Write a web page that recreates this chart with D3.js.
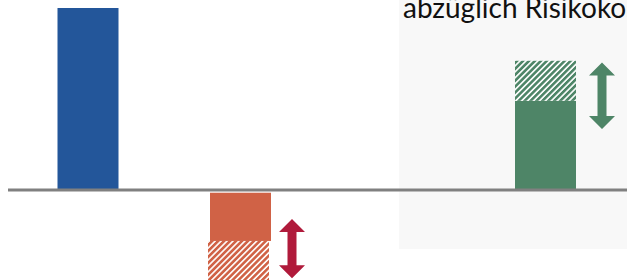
<!DOCTYPE html>
<html>
<head>
<meta charset="utf-8">
<script src="https://cdnjs.cloudflare.com/ajax/libs/d3/7.8.5/d3.min.js"></script>
<style>
  html, body { margin: 0; padding: 0; background: #fff; overflow: hidden; }
  svg { display: block; }
  .note { font-family: Lato, "Open Sans", sans-serif; font-size: 28px; fill: #111; }
</style>
</head>
<body>
<svg id="chart" width="627" height="280"></svg>
<script>
  // categories along the axis (third slot is empty)
  var categories = ["Ertrag", "Risikokosten", "leer", "Ergebnis"];
  // solid part of each bar
  var solidFrom = [0, -1.5, null, 0];
  var solidTo   = [100, -28, null, 49];
  // hatched part (range of uncertainty)
  var hatchFrom = [null, -28, null, 49];
  var hatchTo   = [null, -50, null, 71];
  // double arrows next to the hatched bars
  var arrowCats = ["Risikokosten", "Ergebnis"];
  var arrowFrom = [-16, 33.5];
  var arrowTo   = [-48.5, 70];
  var noteText = "abzüglich Risikokosten";

  var colors = {
    "Ertrag": "#23569a",
    "Risikokosten": "#d06246",
    "Ergebnis": "#4e8567"
  };
  var arrowColors = { "Risikokosten": "#b01a3b", "Ergebnis": "#4e8567" };
  var arrowGap = { "Risikokosten": 8, "Ergebnis": 13 };
  var hatchShift = { "Risikokosten": -2, "Ergebnis": 0 };

  var W = 627, H = 280, BAR_W = 61;
  var svg = d3.select("#chart");

  var x = d3.scalePoint().domain(categories).range([88, 545.5]);
  var y = d3.scaleLinear().domain([0, 100]).range([190, 8]);

  // hatch patterns
  var defs = svg.append("defs");
  Object.keys(colors).forEach(function (k) {
    var p = defs.append("pattern")
      .attr("id", "hatch-" + k)
      .attr("patternUnits", "userSpaceOnUse")
      .attr("width", 4.2).attr("height", 4.2)
      .attr("patternTransform", "rotate(45)");
    p.append("rect").attr("width", 4.2).attr("height", 4.2).attr("fill", "#fff");
    p.append("rect").attr("width", 2.6).attr("height", 4.2).attr("fill", colors[k]);
  });

  // grey panel on the right
  svg.append("rect")
    .attr("x", 399).attr("y", 0)
    .attr("width", W - 399).attr("height", 249)
    .attr("fill", "#f8f8f8");

  svg.append("text")
    .attr("class", "note")
    .attr("x", 403).attr("y", 18)
    .text(noteText);

  var bars = categories.map(function (c, i) {
    return { cat: c, s0: solidFrom[i], s1: solidTo[i], h0: hatchFrom[i], h1: hatchTo[i] };
  }).filter(function (d) { return d.s0 !== null; });

  svg.selectAll("rect.solid")
    .data(bars)
    .enter().append("rect")
    .attr("class", "solid")
    .attr("x", function (d) { return x(d.cat) - BAR_W / 2; })
    .attr("width", BAR_W)
    .attr("y", function (d) { return y(Math.max(d.s0, d.s1)); })
    .attr("height", function (d) { return Math.abs(y(d.s0) - y(d.s1)); })
    .attr("fill", function (d) { return colors[d.cat]; });

  svg.selectAll("rect.hatch")
    .data(bars.filter(function (d) { return d.h0 !== null; }))
    .enter().append("rect")
    .attr("class", "hatch")
    .attr("x", function (d) { return x(d.cat) - BAR_W / 2 + hatchShift[d.cat]; })
    .attr("width", BAR_W)
    .attr("y", function (d) { return y(Math.max(d.h0, d.h1)); })
    .attr("height", function (d) { return Math.abs(y(d.h0) - y(d.h1)); })
    .attr("fill", function (d) { return "url(#hatch-" + d.cat + ")"; });

  // baseline
  svg.append("line")
    .attr("x1", 8).attr("x2", W)
    .attr("y1", y(0)).attr("y2", y(0))
    .attr("stroke", "#808080").attr("stroke-width", 3);

  // double-headed arrows
  var arrows = arrowCats.map(function (c, i) {
    return { cat: c, a: arrowFrom[i], b: arrowTo[i] };
  });
  var AW = 26, SHAFT = 9, HEAD = 13;
  svg.selectAll("path.arrow")
    .data(arrows)
    .enter().append("path")
    .attr("class", "arrow")
    .attr("fill", function (d) { return arrowColors[d.cat]; })
    .attr("d", function (d) {
      var cx = x(d.cat) + BAR_W / 2 + arrowGap[d.cat] + AW / 2;
      var t = Math.min(y(d.a), y(d.b)), b = Math.max(y(d.a), y(d.b));
      var p = d3.path();
      p.moveTo(cx, t);
      p.lineTo(cx + AW / 2, t + HEAD);
      p.lineTo(cx + SHAFT / 2, t + HEAD);
      p.lineTo(cx + SHAFT / 2, b - HEAD);
      p.lineTo(cx + AW / 2, b - HEAD);
      p.lineTo(cx, b);
      p.lineTo(cx - AW / 2, b - HEAD);
      p.lineTo(cx - SHAFT / 2, b - HEAD);
      p.lineTo(cx - SHAFT / 2, t + HEAD);
      p.lineTo(cx - AW / 2, t + HEAD);
      p.closePath();
      return p.toString();
    });
</script>
</body>
</html>
